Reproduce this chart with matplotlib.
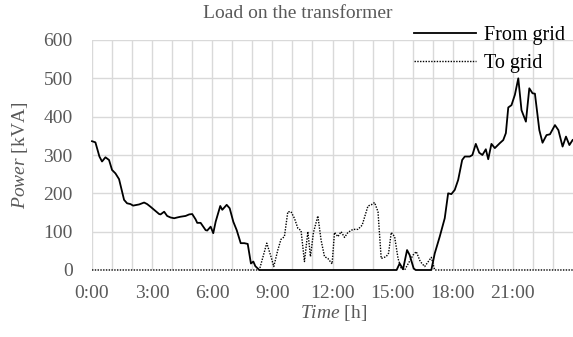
import matplotlib
matplotlib.use('Agg')
import matplotlib.pyplot as plt

plt.rcParams['font.family'] = ['Liberation Serif', 'DejaVu Serif']
plt.rcParams['mathtext.fontset'] = 'custom'
plt.rcParams['mathtext.it'] = 'Liberation Serif:italic'
plt.rcParams['mathtext.rm'] = 'Liberation Serif'

# time in hours, power in kVA
from_t = [0.0, 0.17, 0.37, 0.5, 0.67, 0.85, 1.0, 1.17, 1.35, 1.6, 1.75, 1.92, 2.05, 2.35,
          2.6, 2.75, 2.92, 3.1, 3.35, 3.42, 3.6, 3.75, 3.92, 4.1, 4.25, 4.42, 4.67, 4.85,
          5.0, 5.17, 5.25, 5.42, 5.67, 5.75, 5.92, 6.05, 6.17, 6.4, 6.5, 6.72, 6.87, 7.05,
          7.22, 7.42, 7.6, 7.77, 7.93, 8.05, 8.15, 8.27, 8.35,
          15.2, 15.35, 15.52, 15.72, 15.85, 16.05, 16.15, 16.93, 17.1, 17.35, 17.6, 17.77,
          17.93, 18.1, 18.27, 18.47, 18.6, 18.85, 18.98, 19.15, 19.32, 19.48, 19.65, 19.77,
          19.93, 20.1, 20.35, 20.52, 20.65, 20.77, 20.93, 21.1, 21.27, 21.43, 21.65, 21.82,
          21.98, 22.1, 22.32, 22.48, 22.68, 22.85, 23.1, 23.27, 23.48, 23.65, 23.82, 23.98]
from_v = [336, 333, 296, 283, 294, 287, 261, 252, 237, 183, 174, 172, 168, 171,
          176, 172, 165, 157, 146, 145, 152, 141, 137, 135, 137, 139, 141, 145,
          146, 132, 123, 123, 104, 103, 113, 96, 126, 167, 157, 170, 161, 126,
          104, 70, 70, 68, 17, 22, 10, 4, 0,
          0, 17, 2, 52, 39, 4, 0, 0, 43, 87, 135, 200,
          198, 209, 235, 287, 296, 296, 300, 329, 306, 300, 315, 289,
          329, 318, 331, 339, 357, 424, 430, 457, 500, 417, 387, 474,
          461, 460, 365, 332, 352, 354, 378, 365, 322, 348, 326, 339]

to_t = [0.0, 8.35, 8.72, 8.93, 9.07, 9.27, 9.43, 9.6, 9.77, 9.93, 10.1, 10.27, 10.43,
        10.6, 10.77, 10.9, 11.05, 11.27, 11.43, 11.6, 11.77, 11.98, 12.1, 12.27, 12.43,
        12.6, 12.77, 13.02, 13.27, 13.48, 13.77, 13.93, 14.1, 14.27, 14.43, 14.68, 14.8,
        14.93, 15.1, 15.27, 15.43, 15.6, 16.02, 16.18, 16.38, 16.6, 16.93, 17.1, 24.0]
to_v = [0, 0, 70, 35, 9, 52, 80, 87, 152, 152, 135, 109, 103,
        22, 100, 35, 98, 141, 78, 35, 30, 16, 98, 87, 100,
        85, 98, 106, 106, 117, 167, 170, 176, 152, 30, 35, 44,
        98, 87, 30, 4, 0, 39, 48, 22, 9, 33, 0, 0]

hours = list(range(24))
tick_labels = [f'{h}:00' if h % 3 == 0 else '' for h in hours]

fig = plt.figure(figsize=(5.73, 3.37), dpi=100)
ax = fig.add_axes([92 / 573, 67 / 337, 481 / 573, 230 / 337])

ax.plot(from_t, from_v, color='black', linewidth=1.3, label='From grid', clip_on=False, zorder=3)
ax.plot(to_t, to_v, color='black', linewidth=1.0, linestyle=(0, (1, 1)), label='To grid',
        clip_on=False, zorder=3)

ax.set_xlim(0, 24)
ax.set_ylim(0, 600)
ax.set_xticks(hours)
ax.set_xticklabels(tick_labels)
ax.set_yticks(range(0, 601, 100))
ax.grid(True, color='#d9d9d9', linewidth=1.0)
ax.set_axisbelow(True)
for s in ax.spines.values():
    s.set_visible(False)
ax.tick_params(axis='both', length=0, labelsize=14, labelcolor='#595959')
ax.tick_params(axis='x', pad=11)
ax.tick_params(axis='y', pad=14)

fig.text(298 / 573, 1 - 13 / 337, 'Load on the transformer', ha='center', va='center',
         fontsize=14, color='#595959')
fig.text(334 / 573, 1 - 313 / 337, r'$\it{Time}$ [h]', ha='center', va='center',
         fontsize=14, color='#595959')
fig.text(20 / 573, 1 - 155 / 337, r'$\it{Power}$ [kVA]', ha='center', va='center',
         rotation=90, fontsize=14, color='#595959')

ax.legend(loc='upper left', bbox_to_anchor=(414 / 573, 1 - 26 / 337),
          bbox_transform=fig.transFigure, frameon=False, fontsize=14.5,
          handlelength=3.1, handletextpad=0.4, labelspacing=0.45,
          borderpad=0, borderaxespad=0)

fig.savefig('out.png', dpi=100)
